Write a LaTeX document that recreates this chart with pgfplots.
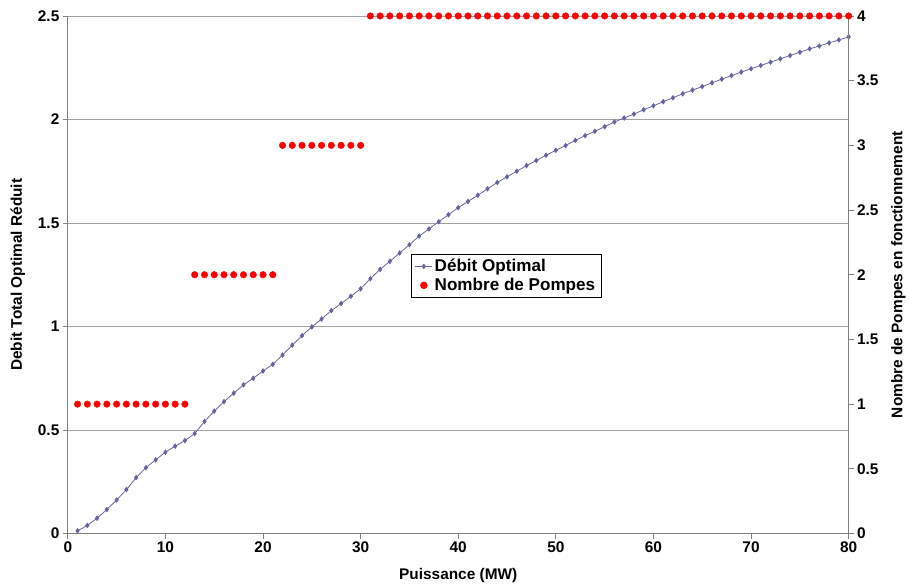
\documentclass[border=0pt]{standalone}
\usepackage{fontspec}
\setmainfont{Liberation Sans}
\usepackage{pgfplots}
\pgfplotsset{compat=1.18}
\definecolor{lineblue}{RGB}{100,100,160}
\definecolor{axgray}{RGB}{128,128,128}
\definecolor{gridgray}{RGB}{160,160,160}
\begin{document}
\begin{tikzpicture}
\pgfplotsset{
  every axis/.append style={
    scale only axis, width=783bp, height=519bp,
    xmin=0, xmax=80,
    tick align=outside, major tick length=5bp,
    every tick/.style={axgray, line width=0.8pt},
    axis line style={axgray, line width=0.8pt},
    tick label style={font=\bfseries\fontsize{15.5}{18}\selectfont},
    /pgf/number format/assume math mode=true,
  }
}
\begin{axis}[
  ymin=0, ymax=2.5,
  xtick={0,10,...,80}, ytick={0,0.5,...,2.5},
  axis y line*=left, axis x line*=bottom,
  ymajorgrids, grid style={gridgray, line width=0.8pt},
  xlabel={Puissance (MW)}, ylabel={Debit Total Optimal Réduit},
  every axis x label/.style={at={(rel axis cs:0.5,0)}, yshift=-42bp, anchor=center,
    font=\bfseries\fontsize{15.5}{18}\selectfont},
  every axis y label/.style={at={(rel axis cs:0,0.5)}, xshift=-50bp, rotate=90, anchor=center,
    font=\bfseries\fontsize{15.5}{18}\selectfont},
  clip=false,
]
\coordinate (ll) at (rel axis cs:0,0);
\coordinate (ur) at (rel axis cs:1,1);
\addplot[lineblue, line width=0.8pt, mark=diamond*, mark size=2.2pt, mark options={lineblue}] coordinates {
(1,0.013)(2,0.039)(3,0.074)(4,0.116)(5,0.162)(6,0.212)(7,0.270)(8,0.318)(9,0.356)(10,0.393)
(11,0.422)(12,0.449)(13,0.483)(14,0.541)(15,0.591)(16,0.637)(17,0.678)(18,0.718)(19,0.750)(20,0.785)
(21,0.817)(22,0.862)(23,0.910)(24,0.956)(25,0.998)(26,1.036)(27,1.077)(28,1.111)(29,1.146)(30,1.182)
(31,1.231)(32,1.276)(33,1.315)(34,1.355)(35,1.395)(36,1.437)(37,1.471)(38,1.506)(39,1.540)(40,1.574)
(41,1.604)(42,1.634)(43,1.665)(44,1.696)(45,1.723)(46,1.750)(47,1.777)(48,1.802)(49,1.827)(50,1.851)
(51,1.874)(52,1.899)(53,1.922)(54,1.943)(55,1.965)(56,1.988)(57,2.007)(58,2.026)(59,2.047)(60,2.066)
(61,2.086)(62,2.105)(63,2.124)(64,2.142)(65,2.159)(66,2.177)(67,2.195)(68,2.212)(69,2.229)(70,2.245)
(71,2.261)(72,2.277)(73,2.293)(74,2.309)(75,2.325)(76,2.341)(77,2.355)(78,2.370)(79,2.384)(80,2.399)
};
\end{axis}
\begin{axis}[
  ymin=0, ymax=4,
  ytick={0,0.5,...,4},
  axis y line*=right, axis x line=none,
  ylabel={Nombre de Pompes en fonctionnement},
  every axis y label/.style={at={(rel axis cs:1,0.5)}, xshift=50bp, rotate=90, anchor=center,
    font=\bfseries\fontsize{15.5}{18}\selectfont},
  clip=false,
  legend style={at={(0.439,0.54)}, anchor=north west, draw=black, line width=0.8pt,
    font=\bfseries\fontsize{17.2}{20}\selectfont, inner xsep=4pt, inner ysep=3pt, row sep=1pt},
  legend cell align=left,
]
\addlegendimage{lineblue, line width=0.8pt, mark=diamond*, mark size=2.2pt, mark options={lineblue}}
\addlegendentry{Débit Optimal}
\addplot[only marks, mark=*, mark size=3.3bp, red, mark options={fill=red, draw=red}] coordinates {
(1,1)(2,1)(3,1)(4,1)(5,1)(6,1)(7,1)(8,1)(9,1)(10,1)(11,1)(12,1)
(13,2)(14,2)(15,2)(16,2)(17,2)(18,2)(19,2)(20,2)(21,2)
(22,3)(23,3)(24,3)(25,3)(26,3)(27,3)(28,3)(29,3)(30,3)
(31,4)(32,4)(33,4)(34,4)(35,4)(36,4)(37,4)(38,4)(39,4)(40,4)
(41,4)(42,4)(43,4)(44,4)(45,4)(46,4)(47,4)(48,4)(49,4)(50,4)
(51,4)(52,4)(53,4)(54,4)(55,4)(56,4)(57,4)(58,4)(59,4)(60,4)
(61,4)(62,4)(63,4)(64,4)(65,4)(66,4)(67,4)(68,4)(69,4)(70,4)
(71,4)(72,4)(73,4)(74,4)(75,4)(76,4)(77,4)(78,4)(79,4)(80,4)
};
\addlegendentry{Nombre de Pompes}
\end{axis}
\path (ll) ++(-68bp,-53bp) (ur) ++(58bp,16bp);
\end{tikzpicture}
\end{document}
